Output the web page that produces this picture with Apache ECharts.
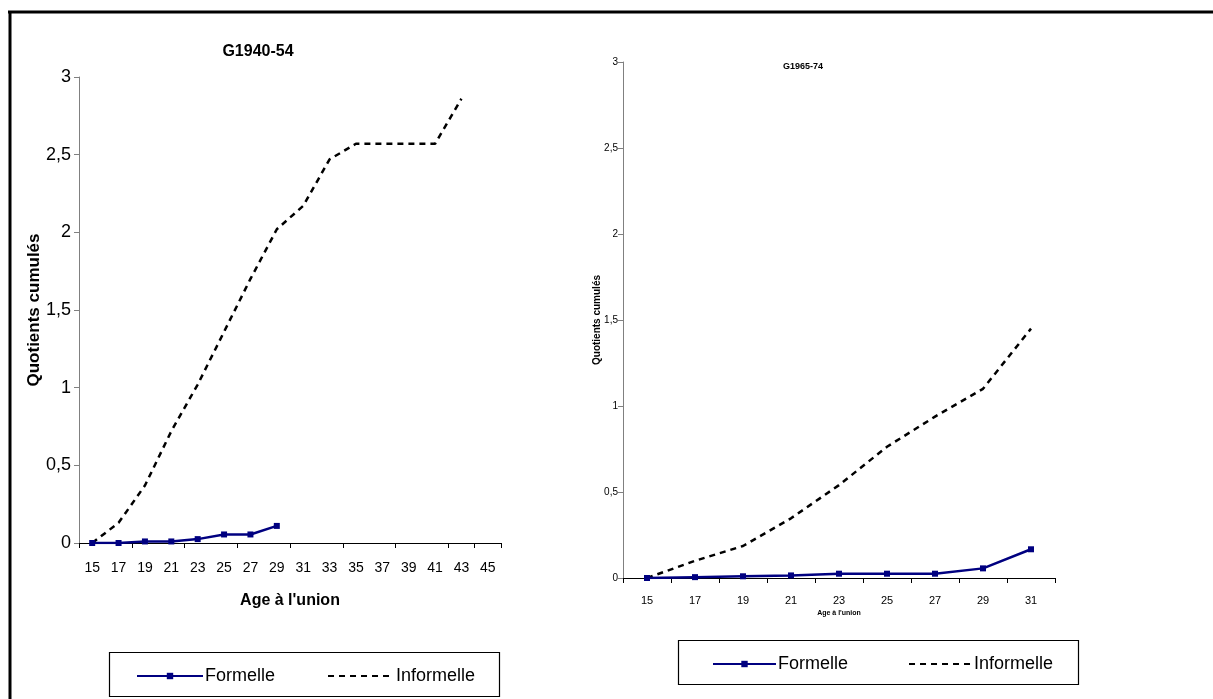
<!DOCTYPE html>
<html>
<head>
<meta charset="utf-8">
<script src="https://cdn.jsdelivr.net/npm/echarts@6/dist/echarts.min.js"></script>
<style>
html,body{margin:0;padding:0;background:#fff;}
#chart{width:1213px;height:699px;}
</style>
</head>
<body>
<div id="chart"></div>
<script>
// ---- Data ----
const leftTitle = 'G1940-54';
const rightTitle = 'G1965-74';
const seriesNames = ['Formelle', 'Informelle'];
const xAxisName = "Age à l'union";
const yAxisName = 'Quotients cumulés';

const leftCategories = ['15','17','19','21','23','25','27','29','31','33','35','37','39','41','43','45'];
const leftFormelle   = [0, 0, 0.01, 0.01, 0.025, 0.055, 0.055, 0.11, null, null, null, null, null, null, null, null];
const leftInformelle = [0, 0.13, 0.37, 0.72, 1.02, 1.36, 1.70, 2.02, 2.17, 2.47, 2.57, 2.57, 2.57, 2.57, 2.86, null];

const rightCategories = ['15','17','19','21','23','25','27','29','31'];
const rightFormelle   = [0, 0.005, 0.01, 0.015, 0.025, 0.025, 0.025, 0.056, 0.167];
const rightInformelle = [0, 0.10, 0.186, 0.347, 0.54, 0.763, 0.938, 1.10, 1.45];

const yMin = 0, yMax = 3, yStep = 0.5;

// ---- Chart ----
const FONT = "'Liberation Sans', Arial, sans-serif";
const fmt = v => String(v).replace('.', ',');

function yAxis(gridIndex, labelSize, nameSize, nameGap, labelMargin) {
  return {
    type: 'value', gridIndex, min: yMin, max: yMax, interval: yStep,
    name: yAxisName, nameLocation: 'middle', nameGap, nameMoveOverlap: false,
    nameTextStyle: { fontFamily: FONT, fontWeight: 'bold', fontSize: nameSize, color: '#000' },
    axisLine: { show: true, lineStyle: { color: '#808080', width: 1 } },
    axisTick: { show: true, length: 5, lineStyle: { color: '#808080' } },
    axisLabel: { formatter: fmt, fontFamily: FONT, fontSize: labelSize, color: '#000', margin: labelMargin },
    splitLine: { show: false }
  };
}
function xAxis(gridIndex, data, tickInterval, labelSize, labelMargin, nameSize, nameGap) {
  return {
    type: 'category', gridIndex, data, boundaryGap: true,
    name: xAxisName, nameLocation: 'middle', nameGap, nameMoveOverlap: false,
    nameTextStyle: { fontFamily: FONT, fontWeight: 'bold', fontSize: nameSize, color: '#000' },
    axisLine: { show: true, lineStyle: { color: '#000', width: 1 } },
    axisTick: { show: true, interval: tickInterval, length: 5, lineStyle: { color: '#000' } },
    axisLabel: { interval: 0, fontFamily: FONT, fontSize: labelSize, color: '#000', margin: labelMargin },
    splitLine: { show: false }
  };
}
function formelle(xi, data, w, s) {
  return { name: seriesNames[0], type: 'line', xAxisIndex: xi, yAxisIndex: xi, data,
    symbol: 'rect', symbolSize: s, showSymbol: true,
    itemStyle: { color: '#000080' }, lineStyle: { color: '#000080', width: w }, connectNulls: false };
}
function informelle(xi, data, w) {
  return { name: seriesNames[1], type: 'line', xAxisIndex: xi, yAxisIndex: xi, data,
    symbol: 'none', showSymbol: false,
    itemStyle: { color: '#000' }, lineStyle: { color: '#000', width: w, type: [6, 5] } };
}
function legend(left, top, itemWidth, itemGap) {
  return { show: true,
    data: [ { name: seriesNames[0] }, { name: seriesNames[1], itemStyle: { opacity: 0 } } ],
    orient: 'horizontal', left, top, padding: 0,
    itemWidth, itemHeight: 8, itemGap,
    textStyle: { fontFamily: FONT, fontSize: 18, color: '#000', padding: [0,0,0,-3] } };
}

const chart = echarts.init(document.getElementById('chart'), null, { renderer: 'canvas' });
chart.setOption({
  animation: false,
  backgroundColor: '#fff',
  title: [
    { text: leftTitle, left: 253, top: 39, textAlign: 'center',
      textStyle: { fontFamily: FONT, fontWeight: 'bold', fontSize: 16, color: '#000' } },
    { text: rightTitle, left: 798, top: 57, textAlign: 'center',
      textStyle: { fontFamily: FONT, fontWeight: 'bold', fontSize: 9, color: '#000' } }
  ],
  grid: [
    { left: 79, top: 77, width: 422, height: 466 },
    { left: 623, top: 62, width: 432, height: 516 }
  ],
  xAxis: [
    xAxis(0, leftCategories, 1, 14, 18, 16, 50),
    xAxis(1, rightCategories, 0, 11, 17, 7, 32)
  ],
  yAxis: [
    yAxis(0, 18, 17, 36, 8),
    yAxis(1, 10, 10, 21, 5)
  ],
  legend: [
    legend(136, 667, 66, 52),
    legend(712, 655, 63, 60)
  ],
  series: [
    informelle(0, leftInformelle, 2.5),
    formelle(0, leftFormelle, 2.5, 6),
    informelle(1, rightInformelle, 2.5),
    formelle(1, rightFormelle, 2.5, 6)
  ],
  graphic: [
    { type: 'line', shape: { x1: 8, y1: 12, x2: 1213, y2: 12 }, style: { stroke: '#000', lineWidth: 3 } },
    { type: 'line', shape: { x1: 10, y1: 11, x2: 10, y2: 699 }, style: { stroke: '#000', lineWidth: 3 } },
    { type: 'rect', shape: { x: 109.5, y: 652.5, width: 390, height: 44 }, style: { fill: 'none', stroke: '#000', lineWidth: 1.2 } },
    { type: 'rect', shape: { x: 678.5, y: 640.5, width: 400, height: 44 }, style: { fill: 'none', stroke: '#000', lineWidth: 1.2 } }
  ]
});
</script>
</body>
</html>
